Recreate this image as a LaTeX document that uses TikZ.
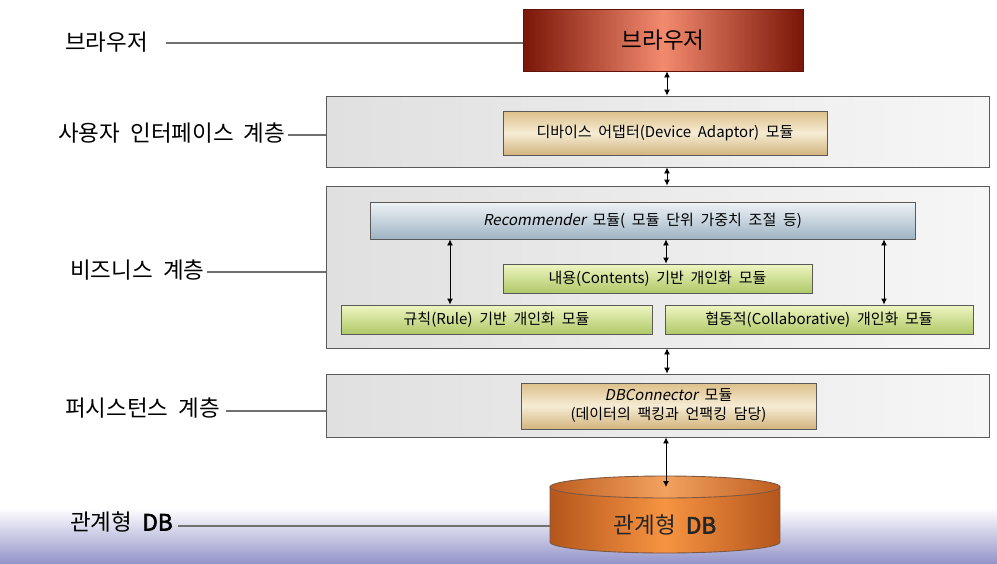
\documentclass[tikz,border=0pt]{standalone}
\usepackage{fontspec}
\setmainfont{Noto Sans CJK KR}[WordSpace=2, ItalicFont={Noto Sans CJK KR}, ItalicFeatures={FakeSlant=0.2}, BoldFont={Noto Sans CJK KR}, BoldFeatures={FakeBold=2.5}]
\usetikzlibrary{arrows.meta}
\definecolor{bordc}{HTML}{5A5A5A}
\definecolor{leadc}{HTML}{707070}
\definecolor{brdark}{HTML}{7A1608}
\definecolor{brmid}{HTML}{F28A6E}
\definecolor{tantop}{HTML}{DCC08A}
\definecolor{tanmid}{HTML}{F6ECD4}
\definecolor{tanbot}{HTML}{D2B47E}
\definecolor{bluetop}{HTML}{EEF3F6}
\definecolor{bluebot}{HTML}{9FB4C4}
\definecolor{grntop}{HTML}{EEF6C2}
\definecolor{grnbot}{HTML}{B0C868}
\definecolor{layl}{HTML}{E0E0E0}
\definecolor{layr}{HTML}{F6F6F6}
\definecolor{ordark}{HTML}{B4561C}
\definecolor{ormid}{HTML}{F79442}
\definecolor{ortop}{HTML}{F08A38}
\definecolor{band}{HTML}{9494CA}
\tikzset{
  layerbox/.style={draw=bordc, line width=0.9pt, left color=layl, right color=layr, minimum width=663pt, inner sep=0pt},
  tanbox/.style={draw=bordc, line width=0.9pt, top color=tantop, bottom color=tanbot, middle color=tanmid, inner sep=0pt, align=center, font=\fontsize{15}{19}\selectfont},
  bluebox/.style={draw=bordc, line width=0.9pt, top color=bluetop, bottom color=bluebot, inner sep=0pt, font=\fontsize{15}{18}\selectfont},
  grnbox/.style={draw=bordc, line width=0.9pt, top color=grntop, bottom color=grnbot, inner sep=0pt, minimum height=29pt, font=\fontsize{15}{18}\selectfont},
  lbl/.style={anchor=west, inner sep=0pt, font=\fontsize{22.5}{26}\selectfont},
  lead/.style={draw=leadc, line width=1.1pt},
  arr/.style={{Latex[length=6pt,width=6pt]}-{Latex[length=6pt,width=6pt]}, line width=0.9pt, black}
}
\begin{document}
\begin{tikzpicture}[x=1pt,y=-1pt]
\useasboundingbox (0,0) rectangle (997,563);
% bottom band
\shade[top color=white, bottom color=band] (0,508) rectangle (997,563);
% browser
\node[draw=brdark!80!black, line width=0.9pt, left color=brdark, right color=brdark, middle color=brmid, minimum width=280pt, minimum height=62pt, inner sep=0pt, font=\fontsize{22.5}{26}\selectfont] (browser) at (663,40) {브라우저};
% layers
\node[layerbox, minimum height=71pt] (ui) at (657.5,131.5) {};
\node[layerbox, minimum height=162pt] (biz) at (657.5,267) {};
\node[layerbox, minimum height=63pt] (pers) at (657.5,405.5) {};
% modules
\node[tanbox, minimum width=324pt, minimum height=44pt] (dev) at (665,133) {디바이스 어댑터(Device Adaptor) 모듈};
\node[bluebox, minimum width=545pt, minimum height=37pt] (rec) at (642.5,220.5) {\textit{Recommender} 모듈( 모듈 단위 가중치 조절 등)};
\node[grnbox, minimum width=309pt] (cont) at (657.5,278.5) {내용(Contents) 기반 개인화 모듈};
\node[grnbox, minimum width=311pt] (rule) at (496.5,319.5) {규칙(Rule) 기반 개인화 모듈};
\node[grnbox, minimum width=308pt] (coll) at (819,319.5) {협동적(Collaborative) 개인화 모듈};
\node[tanbox, minimum width=295pt, minimum height=46pt] (dbc) at (668.5,406) {\textit{DBConnector} 모듈\\(데이터의 팩킹과 언팩킹 담당)};
% cylinder
\coordinate (dbtop) at (665,487);
\shade[left color=ordark, right color=ordark, middle color=ormid, draw=bordc!60!ordark, line width=0.9pt]
  (550,487) -- (550,542) arc[start angle=180, end angle=0, x radius=115, y radius=11] -- (780,487) -- cycle;
\shade[left color=ordark!85!ortop, right color=ordark!85!ortop, middle color=ortop!80!white, draw=bordc!60!ordark, line width=0.9pt]
  (dbtop) ellipse[x radius=115, y radius=11];
\node[inner sep=0pt, font=\fontsize{22.5}{26}\selectfont, text=black!85] (db) at (665,525) {관계형 \textbf{DB}};
\coordinate (dbwest) at (550,518);
% arrows
\draw[arr] ([xshift=4pt]browser.south) -- ([xshift=4pt]browser.south |- ui.north);
\draw[arr] ([xshift=9.5pt]ui.south) -- ([xshift=9.5pt]ui.south |- biz.north);
\draw[arr] ([xshift=9.5pt]biz.south) -- ([xshift=9.5pt]biz.south |- pers.north);
\draw[arr] ([xshift=8.5pt]pers.south) -- ([xshift=8.5pt]pers.south |- dbtop);
\draw[arr] ([xshift=8.5pt]rec.south -| cont.north) -- ([xshift=8.5pt]cont.north);
\draw[arr] ([xshift=-46.5pt]rule.north |- rec.south) -- ([xshift=-46.5pt]rule.north);
\draw[arr] ([xshift=65pt]coll.north |- rec.south) -- ([xshift=65pt]coll.north);
% labels
\node[lbl] (l1) at (65,42) {브라우저};
\node[lbl] (l2) at (58,133) {사용자 인터페이스 계층};
\node[lbl] (l3) at (70,270) {비즈니스 계층};
\node[lbl] (l4) at (65,408) {퍼시스턴스 계층};
\node[lbl] (l5) at (70,522) {관계형 \textbf{DB}};
\draw[lead] ([xshift=18pt,yshift=-1pt]l1.east) -- ([yshift=-1pt]l1.east -| browser.west);
\draw[lead] ([xshift=2pt,yshift=-2pt]l2.east) -- ([yshift=-2pt]l2.east -| ui.west);
\draw[lead] ([xshift=2pt,yshift=-2pt]l3.east) -- ([yshift=-2pt]l3.east -| biz.west);
\draw[lead] ([xshift=6pt,yshift=-3pt]l4.east) -- ([yshift=-3pt]l4.east -| pers.west);
\draw[lead] ([xshift=5pt,yshift=-4pt]l5.east) -- ([yshift=-4pt]l5.east -| dbwest);
\end{tikzpicture}
\end{document}
